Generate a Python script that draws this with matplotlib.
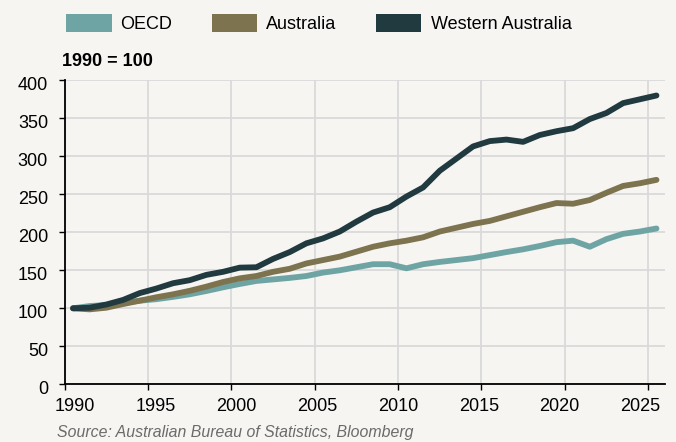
import numpy as np
import matplotlib
matplotlib.use("Agg")
import matplotlib.pyplot as plt
from matplotlib.patches import Patch
from matplotlib.transforms import ScaledTranslation

years = np.arange(1990, 2026)
oecd = [100, 103, 104.3, 107.4, 110, 112, 115, 118.4, 122.8, 127.6, 132, 136, 138, 140,
        142.5, 147, 150, 154, 158, 158, 152.6, 158, 161, 163.5, 166, 170, 174, 177.6,
        182, 187, 189, 181, 191, 198, 201, 205]
australia = [100, 98.6, 100.8, 105.6, 110, 114.5, 118.4, 123, 128.5, 134.6, 139.4, 142.5,
             148, 152, 159, 163.5, 168, 174.5, 181, 185.5, 189, 193.4, 201, 206, 211, 215,
             221, 227, 233, 238.5, 237.6, 242.5, 252, 261, 264.5, 269]
western_australia = [100, 100.8, 105, 111, 120, 126, 133, 137, 144, 148, 153.5, 154, 165,
                     174, 185.5, 192, 201, 214, 226, 233, 247, 259, 281, 297, 313, 320, 322,
                     319, 328, 333, 337, 349, 357, 370, 375, 380]
series_names = ["OECD", "Australia", "Western Australia"]
colors = ["#6ea5a4", "#7d734f", "#213a3f"]
xticks = [1990, 1995, 2000, 2005, 2010, 2015, 2020, 2025]
yticks = [0, 50, 100, 150, 200, 250, 300, 350, 400]

bg = "#f6f5f2"
plt.rcParams['font.family'] = ['Liberation Sans', 'DejaVu Sans']

fig = plt.figure(figsize=(6.76, 4.42), dpi=100, facecolor=bg)
rect = [64.7/676, 1-384.3/442, (664.8-64.7)/676, (384.3-80.3)/442]

# label axis (category-style label placement, slightly inset from gridlines)
lab = fig.add_axes(rect)
lab.set_facecolor('none')
lab.set_xlim(1989.36, 2026.52)
lab.set_xticks(xticks)
lab.set_yticks([])
for s in lab.spines.values():
    s.set_visible(False)
lab.tick_params(axis='x', length=0, pad=10, labelsize=13, labelcolor='black')

ax = fig.add_axes(rect)
ax.set_facecolor(bg)
ax.set_zorder(lab.get_zorder() - 1)

for vals, c in zip([oecd, australia, western_australia], colors):
    ax.plot(years + 0.5, vals, color=c, lw=4.2, solid_capstyle='round',
            solid_joinstyle='round', zorder=3)

ax.set_xlim(1990, 2026)
ax.set_ylim(0, 400)
ax.set_xticks(xticks)
ax.set_xticklabels([])
ax.set_yticks(yticks)
ax.grid(True, color="#dadada", lw=1.3, zorder=0)
ax.set_axisbelow(True)
for s in ['top', 'right']:
    ax.spines[s].set_visible(False)
for s in ['left', 'bottom']:
    ax.spines[s].set_color('black')
    ax.spines[s].set_linewidth(1.3)
ax.tick_params(axis='both', labelsize=13, length=4, width=1, color='black', labelcolor='black')
ax.tick_params(axis='y', pad=8)
off = ScaledTranslation(0, -3/100, fig.dpi_scale_trans)
for t in ax.get_yticklabels():
    t.set_transform(t.get_transform() + off)

handles = [Patch(facecolor=c, edgecolor='none') for c in colors]
fig.legend(handles, series_names, loc='upper left', bbox_to_anchor=(52/676, 1.0),
           ncol=3, frameon=False, fontsize=13, handlelength=2.5, handleheight=1.1,
           handletextpad=0.5, columnspacing=2.2, borderaxespad=0.4)

fig.text(62/676, 1-61/442, "1990 = 100", fontsize=13, fontweight='bold', va='center', ha='left')
fig.text(57/676, 1-432/442, "Source: Australian Bureau of Statistics, Bloomberg",
         fontsize=11.4, style='italic', color='#6b6b6b', va='center', ha='left')

fig.savefig("out.png", dpi=100, facecolor=bg)
